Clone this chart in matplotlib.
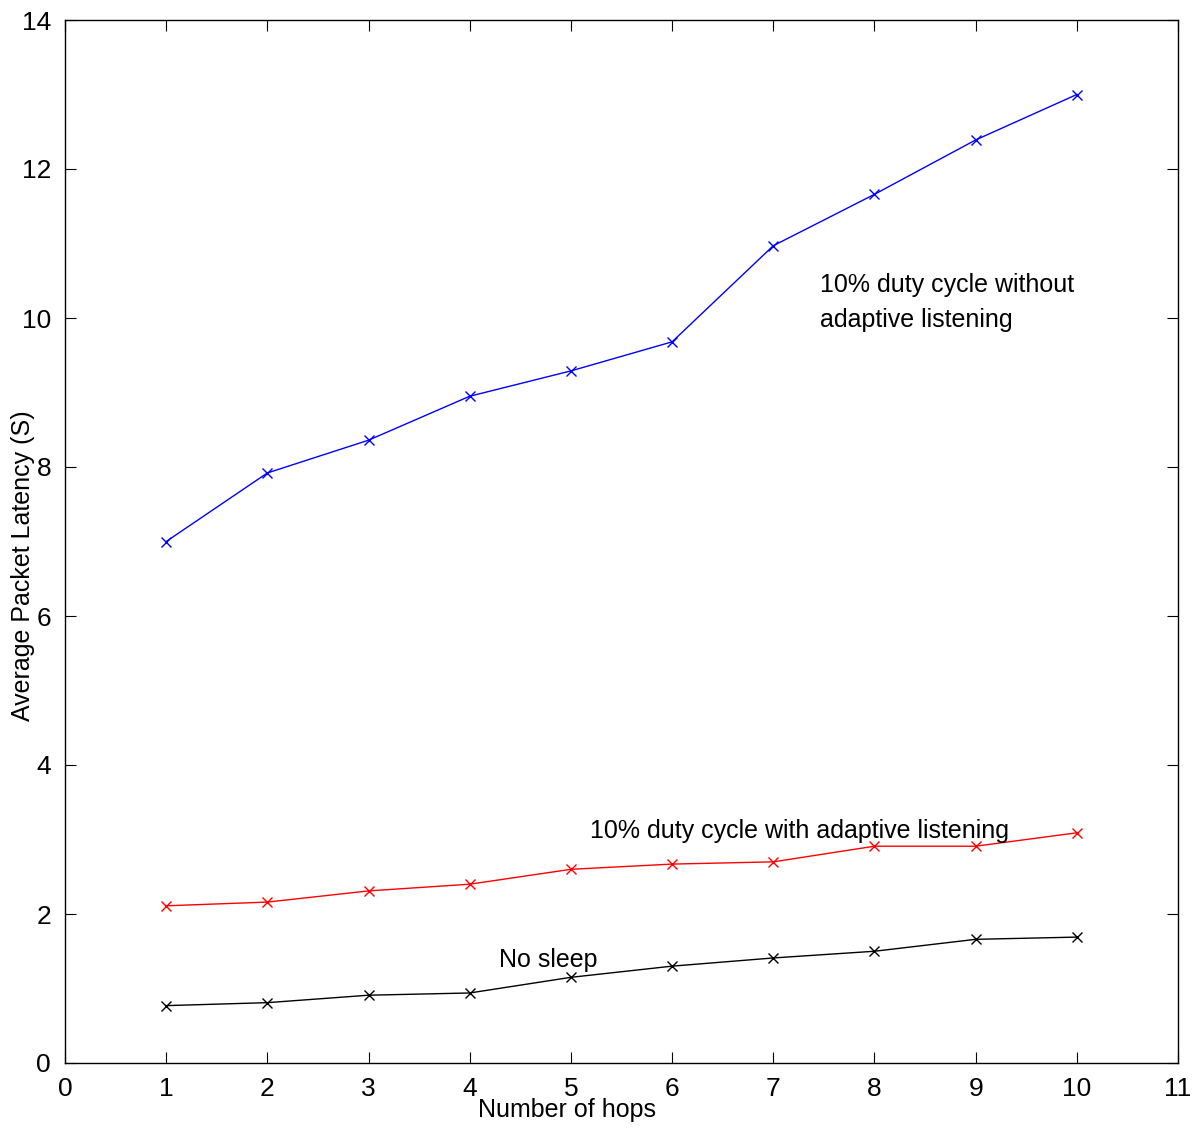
import matplotlib
matplotlib.use("Agg")
import matplotlib.pyplot as plt

hops = [1, 2, 3, 4, 5, 6, 7, 8, 9, 10]
no_adaptive = [7.0, 7.92, 8.36, 8.95, 9.29, 9.68, 10.97, 11.66, 12.39, 13.0]
adaptive = [2.11, 2.16, 2.31, 2.40, 2.60, 2.67, 2.70, 2.91, 2.91, 3.09]
no_sleep = [0.77, 0.81, 0.91, 0.94, 1.15, 1.30, 1.41, 1.50, 1.66, 1.69]
xticks = list(range(0, 12))
yticks = list(range(0, 15, 2))

plt.rcParams['font.family'] = ['Liberation Sans', 'DejaVu Sans']

fig = plt.figure(figsize=(11.98, 11.28), dpi=100)
ax = fig.add_axes([65/1198, 65/1128, (1178-65)/1198, (1063-20)/1128])

ax.plot(hops, no_adaptive, color='#0000ff', marker='x', markersize=7, linewidth=1)
ax.plot(hops, adaptive, color='#ff0000', marker='x', markersize=7, linewidth=1)
ax.plot(hops, no_sleep, color='black', marker='x', markersize=7, linewidth=1)

ax.set_xlim(0, 11)
ax.set_ylim(0, 14)
ax.set_xticks(xticks)
ax.set_yticks(yticks)
ax.tick_params(direction='in', length=8, width=0.8, top=True, right=True,
               labelsize=19, pad=10)
for s in ax.spines.values():
    s.set_linewidth(1)

ax.set_xlabel('Number of hops', fontsize=18)
ax.xaxis.set_label_coords((567-65)/(1178-65), -0.034)
ax.set_ylabel('Average Packet Latency (S)', fontsize=18)
ax.yaxis.set_label_coords(-0.027, (1063-566)/(1063-20))

ax.text(7.46, 10.44, '10% duty cycle without', fontsize=18, va='center', ha='left')
ax.text(7.46, 9.97, 'adaptive listening', fontsize=18, va='center', ha='left')
ax.text(5.19, 3.12, '10% duty cycle with adaptive listening', fontsize=18, va='center', ha='left')
ax.text(4.29, 1.38, 'No sleep', fontsize=18, va='center', ha='left')

fig.savefig('out.png', dpi=100)
